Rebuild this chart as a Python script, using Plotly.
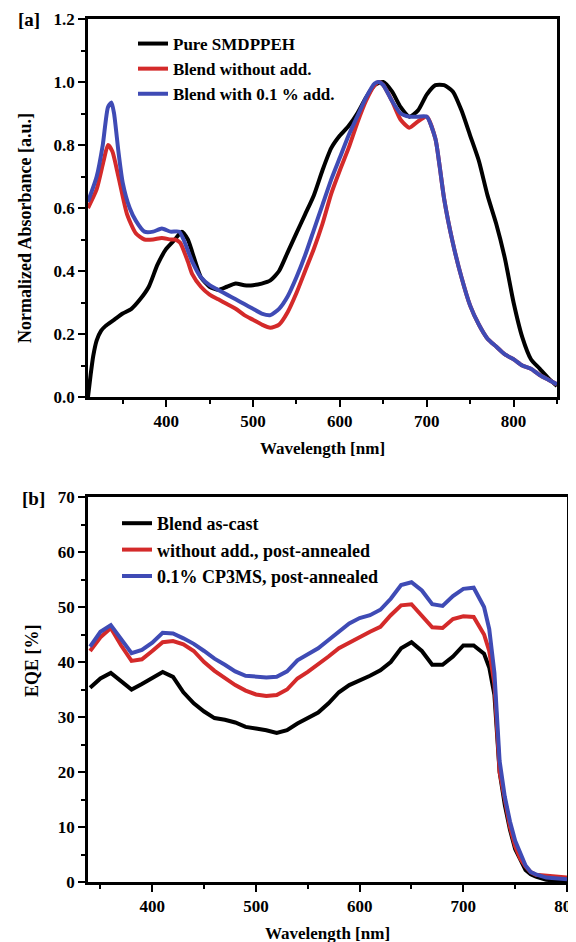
import plotly.graph_objects as go

# ---------- Panel (a): normalized absorbance ----------
wl_black = [310, 313, 316, 320, 325, 330, 340, 350, 360, 370, 380, 390, 400, 410, 418, 425,
            430, 440, 450, 460, 470, 480, 490, 500, 510, 520, 530, 540, 550, 560, 570, 580,
            590, 600, 610, 620, 630, 640, 650, 660, 670, 680, 690, 700, 710, 720, 730, 740,
            750, 760, 770, 780, 790, 800, 810, 820, 830, 840, 850]
abs_black = [0.0, 0.07, 0.13, 0.18, 0.21, 0.225, 0.245, 0.265, 0.28, 0.31, 0.35, 0.42, 0.47, 0.50, 0.525, 0.50,
             0.46, 0.38, 0.35, 0.34, 0.35, 0.36, 0.355, 0.355, 0.36, 0.37, 0.40, 0.46, 0.52, 0.58, 0.64, 0.72,
             0.79, 0.83, 0.86, 0.90, 0.95, 0.99, 1.0, 0.97, 0.92, 0.89, 0.91, 0.96, 0.99, 0.99, 0.97, 0.91,
             0.83, 0.75, 0.64, 0.55, 0.44, 0.30, 0.19, 0.12, 0.09, 0.06, 0.035]

wl_red = [310, 320, 328, 333, 338, 345, 355, 365, 375, 385, 395, 405, 410, 416, 425, 430, 440, 450,
          460, 470, 480, 490, 500, 510, 520, 530, 540, 550, 560, 570, 580, 590, 600, 610, 620, 630,
          640, 645, 650, 660, 670, 680, 690, 700, 710, 715, 720, 730, 740, 750, 760, 770, 780, 790,
          800, 810, 820, 830, 840, 850]
abs_red = [0.60, 0.66, 0.75, 0.80, 0.78, 0.70, 0.58, 0.52, 0.50, 0.50, 0.505, 0.50, 0.50, 0.49, 0.43, 0.39, 0.35, 0.325,
           0.31, 0.295, 0.28, 0.26, 0.245, 0.23, 0.22, 0.23, 0.27, 0.33, 0.40, 0.47, 0.55, 0.645, 0.72, 0.79, 0.87, 0.94,
           0.99, 1.0, 0.99, 0.94, 0.88, 0.855, 0.875, 0.89, 0.82, 0.73, 0.63, 0.49, 0.38, 0.29, 0.23, 0.185, 0.16, 0.135,
           0.12, 0.10, 0.09, 0.07, 0.055, 0.04]

wl_blue = [310, 320, 327, 333, 337, 340, 345, 350, 358, 365, 375, 385, 395, 405, 415, 420, 430, 440,
           450, 460, 470, 480, 490, 500, 510, 520, 530, 540, 550, 560, 570, 580, 590, 600, 610, 620,
           630, 640, 645, 650, 660, 670, 680, 690, 700, 710, 715, 720, 730, 740, 750, 760, 770, 780,
           790, 800, 810, 820, 830, 840, 850]
abs_blue = [0.62, 0.70, 0.80, 0.92, 0.935, 0.90, 0.78, 0.68, 0.60, 0.56, 0.525, 0.525, 0.535, 0.525, 0.525, 0.50, 0.43, 0.38,
            0.355, 0.34, 0.325, 0.31, 0.295, 0.28, 0.265, 0.26, 0.28, 0.32, 0.38, 0.45, 0.53, 0.61, 0.69, 0.76, 0.83, 0.89,
            0.95, 0.995, 1.0, 0.99, 0.94, 0.90, 0.89, 0.89, 0.89, 0.82, 0.73, 0.63, 0.49, 0.38, 0.29, 0.23, 0.185, 0.16,
            0.135, 0.12, 0.10, 0.09, 0.07, 0.055, 0.04]

names_a = ["Pure SMDPPEH", "Blend without add.", "Blend with 0.1 % add."]

# ---------- Panel (b): EQE ----------
wl_eqe = [340, 350, 360, 370, 380, 390, 400, 410, 420, 430, 440, 450, 460, 470, 480, 490, 500, 510,
          520, 530, 540, 550, 560, 570, 580, 590, 600, 610, 620, 630, 640, 650, 660, 670, 680, 690,
          700, 710, 720, 725, 730, 735, 740, 745, 750, 755, 760, 765, 770, 780, 790, 800]
eqe_black = [35.3, 37.0, 38.0, 36.5, 35.0, 36.0, 37.0, 38.2, 37.3, 34.5, 32.5, 31.0, 29.8, 29.5, 29.0, 28.2, 27.9, 27.6,
             27.1, 27.6, 28.8, 29.8, 30.8, 32.5, 34.5, 35.8, 36.6, 37.5, 38.5, 40.0, 42.5, 43.6, 42.0, 39.5, 39.5, 41.0,
             43.0, 43.0, 41.5, 39.0, 34.0, 20.0, 14.0, 9.5, 6.0, 4.0, 2.2, 1.4, 1.0, 0.4, 0.2, 0.1]
eqe_red = [42.0, 44.5, 46.2, 43.0, 40.2, 40.5, 42.0, 43.6, 43.8, 43.2, 42.0, 40.0, 38.4, 37.0, 35.8, 34.8, 34.1, 33.8,
           34.0, 35.0, 37.0, 38.2, 39.5, 41.0, 42.5, 43.6, 44.5, 45.5, 46.4, 48.5, 50.3, 50.5, 48.5, 46.3, 46.2, 47.8,
           48.3, 48.2, 45.0, 42.0, 36.0, 20.0, 15.0, 10.0, 6.5, 4.2, 2.8, 1.8, 1.3, 1.1, 0.9, 0.8]
eqe_blue = [42.8, 45.5, 46.7, 44.0, 41.6, 42.2, 43.5, 45.3, 45.2, 44.3, 43.3, 42.0, 40.6, 39.5, 38.3, 37.5, 37.3, 37.2,
            37.3, 38.3, 40.3, 41.4, 42.5, 44.0, 45.5, 47.0, 48.0, 48.5, 49.5, 51.5, 54.0, 54.5, 53.0, 50.5, 50.2, 52.0,
            53.3, 53.5, 50.0, 46.0, 38.0, 22.0, 15.5, 11.0, 7.5, 5.0, 3.0, 1.8, 1.4, 0.8, 0.6, 0.5]

names_b = ["Blend as-cast", "without add., post-annealed", "0.1% CP3MS, post-annealed"]

BLACK = "#000000"
RED = "#d42a2a"
BLUE = "#3f4bb5"
SERIF = "Liberation Serif"

W, H = 576, 942
OFF = 8  # default page body margin in the written html


def px(x):
    return (x - OFF) / W


def py(y):
    return 1 - (y - OFF) / H


fig = go.Figure()

for x, y, c, n in [(wl_black, abs_black, BLACK, names_a[0]),
                   (wl_red, abs_red, RED, names_a[1]),
                   (wl_blue, abs_blue, BLUE, names_a[2])]:
    fig.add_trace(go.Scatter(x=x, y=y, mode="lines", name=n,
                             line=dict(color=c, width=4, shape="spline", smoothing=0.6),
                             xaxis="x", yaxis="y", legend="legend"))

for y, c, n in [(eqe_black, BLACK, names_b[0]),
                (eqe_red, RED, names_b[1]),
                (eqe_blue, BLUE, names_b[2])]:
    fig.add_trace(go.Scatter(x=wl_eqe, y=y, mode="lines", name=n,
                             line=dict(color=c, width=4),
                             xaxis="x2", yaxis="y2", legend="legend2"))

tickfont = dict(family=SERIF, size=17, color="black", weight="bold")
titlefont = dict(family=SERIF, size=17, color="black", weight="bold")
ytitlefont = dict(family=SERIF, size=18, color="black", weight="bold")
minor_x = dict(ticks="outside", ticklen=4, tickwidth=2, tickcolor="black", dtick=50, tick0=0)

common = dict(showline=True, linecolor="black", linewidth=2.5, mirror=True,
              ticks="outside", ticklen=7, tickwidth=2, tickcolor="black",
              showgrid=False, zeroline=False, tickfont=tickfont,
              automargin=False, ticklabeloverflow="allow")

fig.update_layout(
    width=W, height=H,
    margin=dict(l=0, r=0, t=0, b=0, autoexpand=False),
    paper_bgcolor="white", plot_bgcolor="white",
    xaxis=dict(domain=[px(88), px(557)], range=[310, 850], anchor="y",
               tickvals=[400, 500, 600, 700, 800], minor=minor_x,
               title=dict(text="Wavelength [nm]", font=titlefont, standoff=12),
               **common),
    yaxis=dict(domain=[py(397), py(19)], range=[0, 1.2], anchor="x",
               dtick=0.2, tickformat=".1f",
               minor=dict(ticks="outside", ticklen=4, tickwidth=2, tickcolor="black", dtick=0.1),
               **common),
    xaxis2=dict(domain=[px(88), px(567)], range=[338, 800], anchor="y2",
                tickvals=[400, 500, 600, 700, 800], minor=minor_x,
                title=dict(text="Wavelength [nm]", font=titlefont, standoff=12),
                **common),
    yaxis2=dict(domain=[py(882), py(497)], range=[0, 70], anchor="x2",
                dtick=10,
                minor=dict(ticks="outside", ticklen=4, tickwidth=2, tickcolor="black", dtick=5),
                **common),
    legend=dict(x=px(133), y=py(26), xanchor="left", yanchor="top",
                bgcolor="rgba(0,0,0,0)", tracegroupgap=0,
                font=dict(family=SERIF, size=17, color="black", weight="bold")),
    legend2=dict(x=px(117), y=py(505), xanchor="left", yanchor="top",
                 bgcolor="rgba(0,0,0,0)", tracegroupgap=0,
                 font=dict(family=SERIF, size=18, color="black", weight="bold")),
    annotations=[
        dict(text="[a]", x=px(29), y=py(20), xref="paper", yref="paper",
             xanchor="center", yanchor="middle",
             showarrow=False, font=dict(family=SERIF, size=19, color="black", weight="bold")),
        dict(text="[b]", x=px(33), y=py(498), xref="paper", yref="paper",
             xanchor="center", yanchor="middle",
             showarrow=False, font=dict(family=SERIF, size=19, color="black", weight="bold")),
        dict(text="Normalized Absorbance [a.u.]", textangle=-90, x=px(25), y=py(228),
             xref="paper", yref="paper", xanchor="center", yanchor="middle",
             showarrow=False, font=ytitlefont),
        dict(text="EQE [%]", textangle=-90, x=px(32), y=py(661),
             xref="paper", yref="paper", xanchor="center", yanchor="middle",
             showarrow=False, font=ytitlefont),
    ],
)

fig.write_html("out.html")
